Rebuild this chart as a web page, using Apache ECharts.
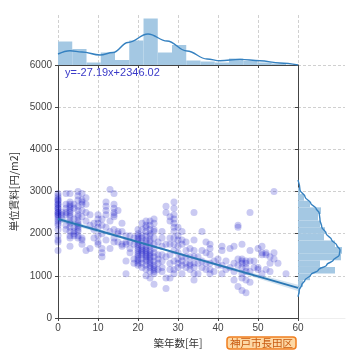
<!DOCTYPE html>
<html><head><meta charset="utf-8">
<script src="https://cdn.jsdelivr.net/npm/echarts@6/dist/echarts.min.js"></script>
<style>html,body{margin:0;padding:0;background:#fff}#c{width:360px;height:360px}</style>
</head><body><div id="c"></div>
<script>
// ---- data ----
const xTickLabels = [0,10,20,30,40,50,60];
const yTickLabels = [0,1000,2000,3000,4000,5000,6000];
const scatterColumns = [
  [0,[2950,2900,2850,2800,2800,2750,2700,2700,2650,2600,2600,2550,2500,2500,2450,2450,2400,2350,2300,2250,2200,2100,1950,1850,1800,1600]],
  [1,[2500,2450,2350]],
  [2,[2950,2700,2600,2500,2450,2200,2100]],
  [3,[2950,2750,2700,2650,2600,2550,2500,2450,2400,2300,2250,2150,2050,1950,1900,1700]],
  [4,[2700,2600,2350,2150,2050,2000,1950]],
  [5,[3000,2900,2800,2650,2550,2450,2400,2300,2250,2200,2150,2100,2050,1950,1900]],
  [6,[2950,2800,2750,2700,2550,2400,1900,1850,1750]],
  [7,[2850,2700,2500,2300,1600]],
  [8,[2450,2200,1650]],
  [9,[2250,2100,1900]],
  [10,[2450,2350,2250,2150,1950,1800,1750]],
  [11,[2350,2200,2000,1650,1550,1450]],
  [12,[2750,2650,2550,2450,2150,1850]],
  [13,[3050,2300,2050,1650]],
  [14,[2950,2700,2600,2500,2450,2400,2100,1900,1800]],
  [15,[2550,2050,2000,1800]],
  [16,[2250,2050,1750,1700]],
  [17,[1950,1800,1750,1350,1050]],
  [18,[1950,1800,1650,1550]],
  [19,[1900,1750,1400,1300]],
  [20,[2100,2000,1950,1900,1850,1800,1750,1700,1650,1600,1550,1500,1450,1400,1350,1300,1250]],
  [21,[2250,2100,1950,1900,1800,1700,1650,1600,1550,1500,1400,1300,1200]],
  [22,[2300,2200,2150,2050,1950,1850,1800,1700,1650,1600,1550,1500,1450,1400,1350,1250,1150,1000]],
  [23,[2300,2200,2100,2000,1950,1850,1800,1700,1600,1550,1500,1450,1400,1350,1300,1250,1200,1100,950]],
  [24,[2350,2250,2100,2050,1900,1750,1650,1550,1450,1350,1250,1200,1150,1100,1050,800]],
  [25,[1800,1500,1400,1300,1150]],
  [26,[2050,1900,1700,1500,1350,1200,1100]],
  [27,[2650,2500,1750,1450,950,700]],
  [28,[2400,2300,1900,1750,1500,1300,1150,950]],
  [29,[2750,2600,2450,2350,2250,2150,2050,1900,1750,1600,1350,1150,1050]],
  [30,[2150,1950,1850,1700,1550,1400,1300,1200]],
  [31,[2050,1850,1750,1450,1350,1250,1050]],
  [32,[1800,1600,1450,1300,1200]],
  [33,[1650,1450,1300,1250,1150]],
  [34,[2500,1850,1600,1450,1300,1200,1050,900]],
  [35,[1450,1300,1050]],
  [36,[2050,1600,1350,1200]],
  [37,[1800,1550,1300,1150]],
  [38,[1750,1650,1500,1300,1150,1050]],
  [39,[1350,1100]],
  [40,[1400,1250]],
  [41,[1700,1600,1250,1050]],
  [42,[1350,1150]],
  [43,[1650,1200]],
  [44,[1700,1300,1100,900]],
  [45,[2200,2150,1400,1250,750]],
  [46,[1750,1400,1350,1300,1200,1050,950,650]],
  [47,[1350,1300,1200,1100,900,600]],
  [48,[2500,1600,1350,1100,850]],
  [49,[1350,1200]],
  [50,[1650,1200,1150]],
  [51,[1700,1550,1500,1050]],
  [52,[1550,1500,1150]],
  [53,[1450,1300,1100]],
  [54,[3000,1550,1400]],
  [55,[1300]],
  [57,[1050]]
];
const regEquation = 'y=-27.19x+2346.02';
const regX = [0, 60];
const regY = [2346.02, 714.62];
const bandX  = [0, 10, 20, 30, 40, 50, 60];
const bandLo = [2286, 2034, 1777, 1508, 1228, 936, 640];
const bandHi = [2406, 2114, 1827, 1552, 1288, 1036, 790];
const topBinEdges = [0,3.56,7.13,10.69,14.25,17.81,21.38,24.94,28.5,32.06,35.63,39.19,42.75,46.31,49.88,53.44,57];
const topCounts   = [47,32,5,25,10,49,93,25,40,9,7,5,13,8,5,3];
const topKdeX = [0,3,6,10.5,13.75,17.5,22.5,27.25,32.25,37.25,40.5,45.5,50.5,55.5,60];
const topKdeY = [22,28.6,26,20,25,45,62,48,28,12,8.6,11.2,8.6,4,0];
const rightBinEdges = [583,740,897,1054,1211,1368,1525,1682,1839,1996,2153,2310,2467,2624,2781,2938,3095];
const rightCounts   = [2,5,12,37,22,43,44,37,26,27,22,20,23,12,6,2];
const rightKdeV = [505,664,783,901,1020,1138,1257,1375,1494,1613,1731,1850,2009,2165,2324,2483,2601,2720,2877,3035,3272];
const rightKdeW = [0,1.3,3.7,7,12.7,20.3,28.7,35.3,41.3,42,38.7,33.7,28,23.7,22,21.3,18,12.7,7,2,0];
const titleText = '神戸市長田区';
const xName = '築年数[年]';
const yName = '単位賃料[円/m2]';

// ---- build ----
const scatterData = [];
scatterColumns.forEach(([x, vals]) => vals.forEach(v => scatterData.push([x, v])));
const topHistData = topCounts.map((c, i) => [topBinEdges[i], topBinEdges[i+1], c]);
const rightHistData = rightCounts.map((c, i) => [rightBinEdges[i], rightBinEdges[i+1], c]);

const CJK = '"Noto Sans CJK JP", sans-serif';
const NUM = '"Liberation Sans", Arial, sans-serif';
const gridLine = {show: true, lineStyle: {color: '#c4c4c4', type: [3, 2], width: 0.8}};
const darkLine = {show: true, lineStyle: {color: '#444', width: 1}};
const histFill = '#a4c8e3';
const kdeColor = '#3581c0';
const plain = v => String(v);

const chart = echarts.init(document.getElementById('c'), null, {renderer: 'canvas'});
chart.setOption({
  animation: false,
  backgroundColor: '#fff',
  title: {
    text: titleText, left: 227, top: 337,
    padding: [1, 3, 1, 3],
    backgroundColor: '#fdd8a4', borderColor: '#f07d1e', borderWidth: 1.5, borderRadius: 3,
    textStyle: {fontFamily: CJK, fontSize: 10.5, fontWeight: 'normal', color: '#c85a10'}
  },
  grid: [
    {left: 58, top: 65, width: 240, height: 253},
    {left: 58, top: 15, width: 240, height: 50},
    {left: 298, top: 65, width: 47, height: 253}
  ],
  xAxis: [
    {gridIndex: 0, type: 'value', min: 0, max: 60, interval: 10,
     axisLine: darkLine, axisTick: {show: true, length: 3, lineStyle: {color: '#444'}},
     axisLabel: {fontFamily: NUM, fontSize: 10, color: '#444', margin: 5, formatter: plain},
     splitLine: gridLine,
     name: xName, nameLocation: 'middle', nameGap: 18,
     nameTextStyle: {fontFamily: CJK, fontSize: 10.5, color: '#333'}},
    {gridIndex: 1, type: 'value', min: 0, max: 60, interval: 10,
     axisLine: darkLine, axisTick: {show: true, length: 3, lineStyle: {color: '#444'}},
     axisLabel: {show: false}, splitLine: gridLine},
    {gridIndex: 2, type: 'value', min: 0, max: 47, show: true,
     axisLine: {show: true, lineStyle: {color: '#eee', width: 1}}, axisTick: {show: false},
     axisLabel: {show: false}, splitLine: {show: false}}
  ],
  yAxis: [
    {gridIndex: 0, type: 'value', min: 0, max: 6000, interval: 1000,
     axisLine: darkLine, axisTick: {show: true, length: 3, lineStyle: {color: '#444'}},
     axisLabel: {fontFamily: NUM, fontSize: 10, color: '#444', margin: 6, formatter: plain},
     splitLine: gridLine,
     name: yName, nameLocation: 'middle', nameGap: 35, nameRotate: 90,
     nameTextStyle: {fontFamily: CJK, fontSize: 10.5, color: '#333'}},
    {gridIndex: 1, type: 'value', min: 0, max: 100, show: false, splitLine: {show: false}},
    {gridIndex: 2, type: 'value', min: 0, max: 6000, interval: 1000,
     axisLine: darkLine, axisTick: {show: true, length: 3, lineStyle: {color: '#444'}},
     axisLabel: {show: false}, splitLine: gridLine}
  ],
  graphic: [
    {type: 'text', left: 65, top: 67, z: 100,
     style: {text: regEquation, fill: '#3a3ac8', font: '11px ' + NUM}}
  ],
  series: [
    {type: 'scatter', xAxisIndex: 0, yAxisIndex: 0, data: scatterData, symbolSize: 7,
     itemStyle: {color: 'rgba(20,20,195,0.28)'}, z: 3, silent: true},
    {type: 'custom', xAxisIndex: 0, yAxisIndex: 0, data: [[0, 0]], z: 4, silent: true,
     renderItem: function (params, api) {
       const pts = [];
       for (let i = 0; i < bandX.length; i++) pts.push(api.coord([bandX[i], bandHi[i]]));
       for (let i = bandX.length - 1; i >= 0; i--) pts.push(api.coord([bandX[i], bandLo[i]]));
       return {type: 'polygon', shape: {points: pts}, style: {fill: 'rgba(42,119,180,0.2)'}};
     }},
    {type: 'line', xAxisIndex: 0, yAxisIndex: 0, data: regX.map((x, i) => [x, regY[i]]),
     showSymbol: false, lineStyle: {color: '#2a77b4', width: 2}, z: 5, silent: true},
    {type: 'custom', xAxisIndex: 1, yAxisIndex: 1, data: topHistData, z: 2, silent: true,
     renderItem: function (params, api) {
       const p0 = api.coord([api.value(0), 0]);
       const p1 = api.coord([api.value(1), api.value(2)]);
       return {type: 'rect', shape: {x: p0[0], y: p1[1], width: p1[0] - p0[0], height: p0[1] - p1[1]},
               style: {fill: histFill}};
     }},
    {type: 'line', xAxisIndex: 1, yAxisIndex: 1, data: topKdeX.map((x, i) => [x, topKdeY[i]]),
     smooth: 0.4, smoothMonotone: 'x', showSymbol: false, lineStyle: {color: kdeColor, width: 1.4}, z: 4, silent: true},
    {type: 'custom', xAxisIndex: 2, yAxisIndex: 2, data: rightHistData, z: 2, silent: true,
     renderItem: function (params, api) {
       const p0 = api.coord([0, api.value(0)]);
       const p1 = api.coord([api.value(2), api.value(1)]);
       return {type: 'rect', shape: {x: p0[0], y: p1[1], width: p1[0] - p0[0], height: p0[1] - p1[1]},
               style: {fill: histFill}};
     }},
    {type: 'line', xAxisIndex: 2, yAxisIndex: 2, data: rightKdeV.map((v, i) => [rightKdeW[i], v]),
     smooth: 0.4, smoothMonotone: 'y', showSymbol: false, lineStyle: {color: kdeColor, width: 1.4}, z: 4, silent: true}
  ]
});
</script></body></html>
